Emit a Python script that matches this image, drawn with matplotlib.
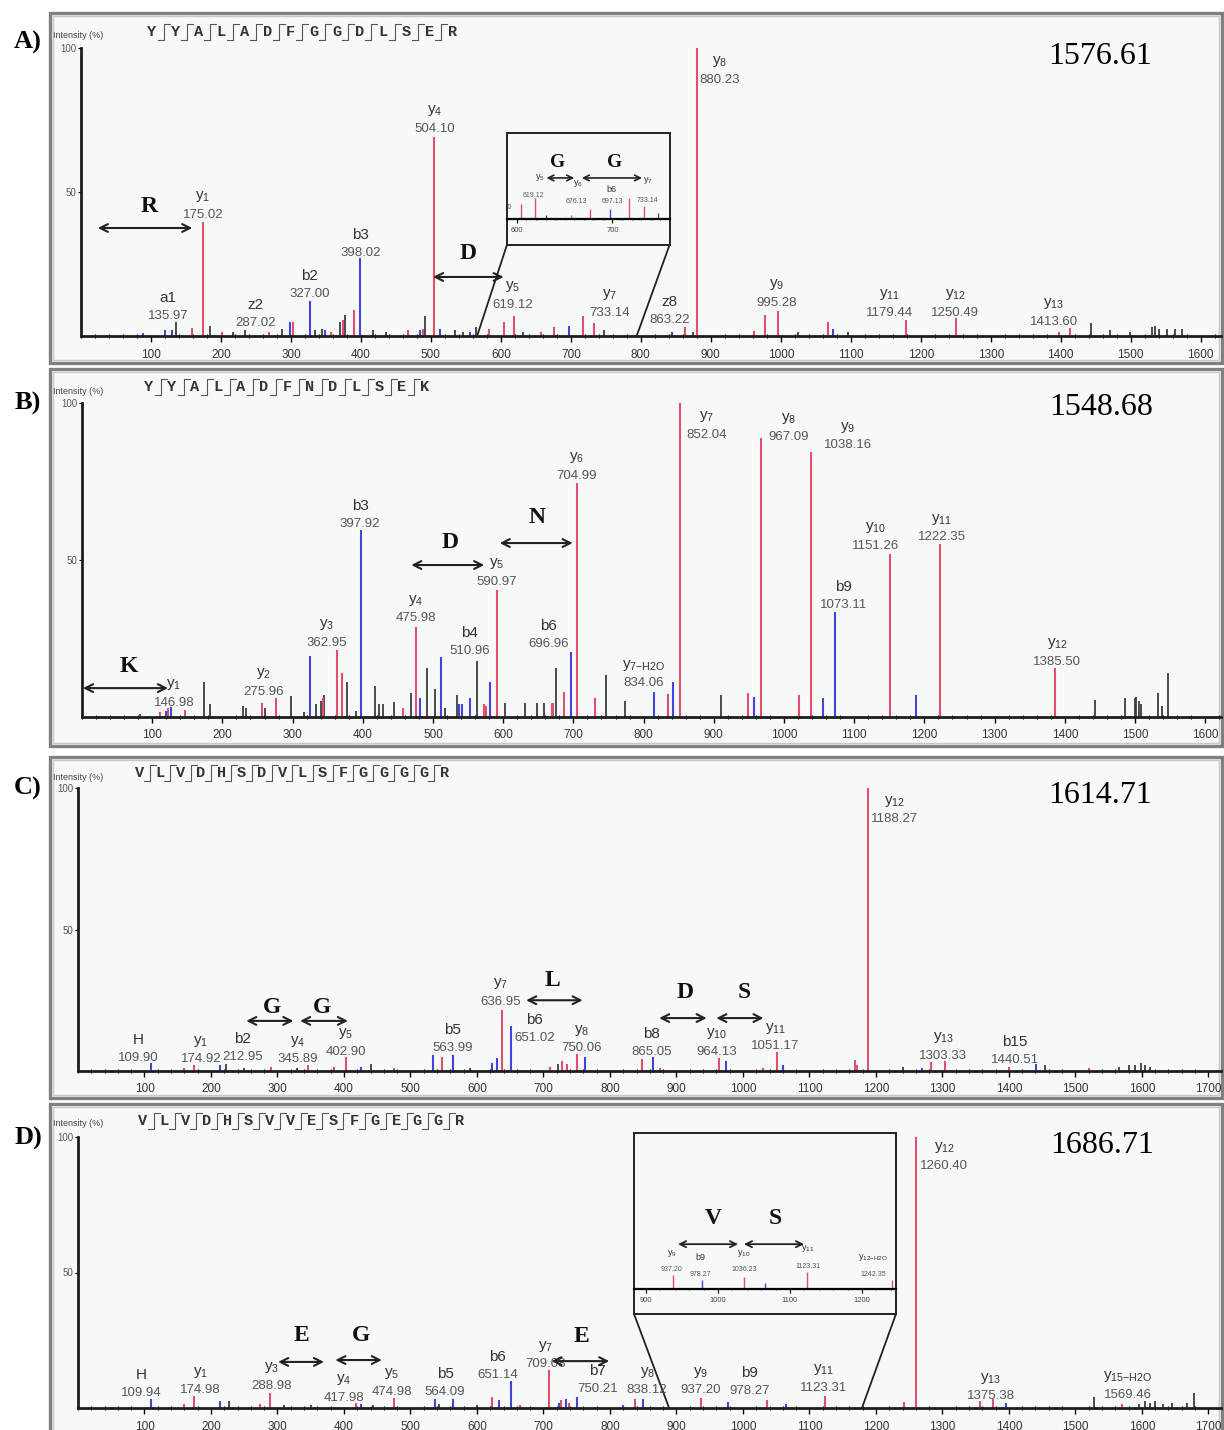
import numpy as np
import matplotlib
matplotlib.use("Agg")
import matplotlib.pyplot as plt
from matplotlib.patches import Rectangle
from matplotlib.lines import Line2D
from matplotlib.ticker import MultipleLocator

plt.rcParams["font.family"] = ["Liberation Sans", "DejaVu Sans"]

W, H = 1224, 1430
RED, BLUE, BLACK = "#e0506e", "#4444d8", "#3a3a3a"
BG = "#f7f9f9"

# ---------------------------------------------------------------------
# A) YYALADFGGDLSER, precursor 1576.61
# ---------------------------------------------------------------------
seq_a = "YYALADFGGDLSER"
precursor_a = 1576.61
red_mz_a = [158, 175.02, 201, 268, 303, 357, 374, 390, 467, 488,
            504.10, 583, 604.10, 619.12, 657, 676.13, 717, 733.14, 863.22, 880.23,
            962, 978, 995.28, 1067, 1179.44, 1250.49, 1398, 1413.60]
red_int_a = [2.8, 39.5, 1.5, 1.5, 4.9, 1.5, 5.5, 9.0, 2.0, 2.5,
             69.0, 2.4, 4.9, 7.0, 1.5, 3.2, 6.9, 4.5, 3.2, 100.0,
             1.7, 7.3, 8.7, 4.9, 5.6, 6.2, 1.5, 2.8]
blue_mz_a = [88, 120, 130, 298, 327.00, 349, 398.02, 484, 513, 556, 697.13, 844, 1074]
blue_int_a = [1.0, 2.0, 2.2, 4.9, 12.0, 2.0, 27.0, 2.0, 2.5, 1.5, 3.4, 1.5, 2.4]
black_mz_a = [135.97, 184, 217, 234, 287.02, 334, 344, 370, 377, 417,
              436, 491, 534, 546, 565, 631, 748, 875, 1024, 1096,
              1443, 1471, 1499, 1530, 1534, 1541, 1552, 1563, 1573]
black_int_a = [5.0, 3.5, 1.5, 2.0, 2.4, 2.0, 2.5, 5.0, 7.3, 2.0,
               1.5, 7.0, 2.0, 1.5, 3.0, 1.5, 2.0, 1.5, 1.5, 1.3,
               4.5, 2.0, 1.5, 3.0, 3.5, 2.5, 2.5, 2.5, 2.5]
ions_a = ["a1", "y1", "z2", "b2", "b3", "y4", "y5", "y7", "z8", "y8", "y9", "y11", "y12", "y13"]
ion_mz_a = [135.97, 175.02, 287.02, 327.00, 398.02, 504.10, 619.12, 733.14, 863.22, 880.23,
            995.28, 1179.44, 1250.49, 1413.60]
zoom_ions_a = ["y5", "y6", "b6", "y7"]
zoom_mz_a = [619.12, 676.13, 697.13, 733.14]
edge_mz_a = 604.10

# ---------------------------------------------------------------------
# B) YYALADFNDLSEK, precursor 1548.68
# ---------------------------------------------------------------------
seq_b = "YYALADFNDLSEK"
precursor_b = 1548.68
red_mz_b = [111, 123, 146.98, 256, 275.96, 343, 362.95, 371, 457, 475.98,
            572, 575, 590.97, 669, 671, 686, 704.99, 731, 834.06, 852.04,
            949, 967.09, 1021, 1038.16, 1151.26, 1222.35, 1385.50]
red_int_b = [1.5, 3.0, 2.2, 4.5, 6.0, 6.0, 21.3, 14.0, 3.0, 28.7,
             4.0, 3.5, 40.4, 4.5, 4.5, 8.0, 74.5, 6.0, 7.3, 100.0,
             7.6, 89.0, 7.0, 84.5, 52.0, 55.0, 15.7]
blue_mz_b = [83, 119, 127, 325, 397.92, 481, 510.96, 537, 542, 553,
             581, 696.96, 815, 842, 957, 1055, 1073.11, 1188]
blue_int_b = [1.0, 2.0, 3.3, 19.5, 59.6, 6.0, 19.0, 4.0, 4.0, 6.0,
              11.0, 20.7, 8.0, 11.0, 6.5, 6.0, 33.5, 7.0]
black_mz_b = [174, 183, 229, 233, 260, 298, 316, 333, 340, 345,
              377, 390, 417, 423, 429, 445, 468, 491, 503, 517,
              534, 562, 603, 631, 648, 658, 675, 747, 774, 910,
              1443, 1486, 1500, 1502, 1505, 1508, 1533, 1538, 1547]
black_int_b = [11.0, 4.0, 3.5, 3.0, 3.0, 6.6, 1.5, 4.0, 5.0, 7.0,
               11.0, 2.0, 10.0, 4.0, 4.0, 4.8, 7.6, 15.6, 9.0, 3.0,
               7.0, 17.8, 4.5, 4.5, 4.5, 4.5, 15.6, 13.4, 5.0, 7.0,
               5.4, 6.0, 6.0, 6.5, 5.0, 4.0, 7.5, 3.4, 14.0]
ions_b = ["y1", "y2", "y3", "b3", "y4", "b4", "y5", "b6", "y6", "y7-H2O",
          "y7", "y8", "y9", "b9", "y10", "y11", "y12"]
ion_mz_b = [146.98, 275.96, 362.95, 397.92, 475.98, 510.96, 590.97, 696.96, 704.99, 834.06,
            852.04, 967.09, 1038.16, 1073.11, 1151.26, 1222.35, 1385.50]

# ---------------------------------------------------------------------
# C) VLVDHSDVLSFGGGGR, precursor 1614.71
# ---------------------------------------------------------------------
seq_c = "VLVDHSDVLSFGGGGR"
precursor_c = 1614.71
red_mz_c = [160, 174.92, 290, 345.89, 385, 402.90, 475, 548, 636.95, 710,
            728, 735, 750.06, 848, 875, 964.13, 1030, 1051.17, 1168, 1172,
            1188.27, 1283, 1303.33, 1400, 1520]
red_int_c = [1.0, 2.0, 1.5, 2.2, 1.5, 5.0, 1.0, 5.0, 21.6, 1.5,
             3.5, 2.5, 6.0, 4.2, 1.0, 4.7, 1.0, 6.7, 3.8, 2.0,
             100.0, 3.2, 3.5, 1.5, 1.0]
blue_mz_c = [109.90, 212.95, 425, 534, 563.99, 622, 630, 651.02, 762, 865.05,
             975, 1061, 1270, 1440.51]
blue_int_c = [2.8, 2.0, 1.5, 5.6, 5.6, 2.8, 4.5, 16.0, 5.0, 5.0,
              3.7, 2.0, 1.0, 2.3]
black_mz_c = [223, 250, 330, 440, 590, 722, 1240, 1455, 1565, 1580, 1590, 1598, 1605, 1612]
black_int_c = [2.5, 1.0, 1.0, 2.5, 1.0, 2.5, 1.5, 2.0, 1.5, 2.0, 2.0, 3.0, 2.0, 1.5]
ions_c = ["H", "y1", "b2", "y4", "y5", "b5", "y7", "b6", "y8", "b8",
          "y10", "y11", "y12", "y13", "b15"]
ion_mz_c = [109.90, 174.92, 212.95, 345.89, 402.90, 563.99, 636.95, 651.02, 750.06, 865.05,
            964.13, 1051.17, 1188.27, 1303.33, 1440.51]

# ---------------------------------------------------------------------
# D) VLVDHSVVESFGEGGR, precursor 1686.71
# ---------------------------------------------------------------------
seq_d = "VLVDHSVVESFGEGGR"
precursor_d = 1686.71
red_mz_d = [159, 174.98, 274, 288.98, 417.98, 474.98, 622, 665, 709.08, 726,
            738, 838.12, 937.20, 1036.23, 1123.31, 1242.35, 1260.40, 1357, 1375.38, 1569.46]
red_int_d = [1.5, 4.4, 1.5, 5.5, 2.0, 3.6, 4.0, 1.0, 14.0, 3.0,
             2.0, 3.3, 3.7, 3.0, 4.4, 2.2, 100.0, 2.5, 3.3, 1.5]
blue_mz_d = [109.94, 213, 425, 537, 564.09, 633, 651.14, 723, 734, 750.21,
             820, 849, 978.27, 1065, 1396]
blue_int_d = [3.3, 2.5, 1.5, 3.3, 3.3, 3.0, 10.0, 2.0, 3.5, 4.0,
              1.0, 3.3, 2.2, 1.5, 2.0]
black_mz_d = [227, 310, 350, 443, 543, 600, 1528, 1595, 1605, 1612, 1620, 1632, 1645, 1668, 1678]
black_int_d = [2.5, 1.2, 1.0, 1.0, 1.5, 1.0, 4.0, 1.5, 2.5, 2.0, 2.5, 1.5, 2.0, 2.0, 5.5]
ions_d = ["H", "y1", "y3", "y4", "y5", "b5", "b6", "y7", "b7", "y8",
          "y9", "b9", "y11", "y12", "y13", "y15-H2O"]
ion_mz_d = [109.94, 174.98, 288.98, 417.98, 474.98, 564.09, 651.14, 709.08, 750.21, 838.12,
            937.20, 978.27, 1123.31, 1260.40, 1375.38, 1569.46]
zoom_ions_d = ["y9", "b9", "y10", "y11", "y12-H2O"]
zoom_mz_d = [937.20, 978.27, 1036.23, 1123.31, 1242.35]


# ---------------------------------------------------------------------
# helpers
# ---------------------------------------------------------------------
fig = plt.figure(figsize=(W / 100, H / 100), dpi=100)
fig.patch.set_facecolor("white")


def fx(x):
    return x / W


def fy(y):
    return 1 - y / H


def panel_frame(x0, y0, x1, y1):
    fig.patches.append(Rectangle((fx(x0), fy(y1)), (x1 - x0) / W, (y1 - y0) / H,
                                 transform=fig.transFigure, facecolor=BG,
                                 edgecolor="#808080", lw=2.4, zorder=-2))
    fig.patches.append(Rectangle((fx(x0 + 3), fy(y1 - 3)), (x1 - x0 - 6) / W, (y1 - y0 - 6) / H,
                                 transform=fig.transFigure, fill=False,
                                 edgecolor="#c8c8c8", lw=1.0, zorder=-1))


def spectrum_axes(left, top, right, bottom, xmax, last_tick):
    ax = fig.add_axes([fx(left), fy(bottom), (right - left) / W, (bottom - top) / H])
    ax.set_xlim(0, xmax)
    ax.set_ylim(0, 100)
    ax.set_facecolor("none")
    ax.spines[["top", "right"]].set_visible(False)
    for s in ("left", "bottom"):
        ax.spines[s].set_linewidth(2.0)
        ax.spines[s].set_color("#1e1e1e")
    ax.set_yticks([50, 100])
    ax.tick_params(axis="y", length=2.5, width=0.8, labelsize=7, pad=1, labelcolor="#555")
    ax.set_xticks(np.arange(100, last_tick + 1, 100))
    ax.xaxis.set_minor_locator(MultipleLocator(20))
    ax.tick_params(axis="x", which="major", length=4, width=1.0, labelsize=8.5,
                   pad=5, labelcolor="#333")
    ax.tick_params(axis="x", which="minor", length=3, width=0.8, direction="inout")
    return ax


def draw_peaks(ax, red, blue, black, lw=1.5):
    for (mz, inten), c, w in ((black, BLACK, lw * 0.85), (blue, BLUE, lw), (red, RED, lw)):
        ax.vlines(mz, 0, inten, colors=c, lw=w, zorder=2)


def ion_text(name):
    if name[0] == "y":
        return r"$\mathregular{y_{%s}}$" % name[1:].replace("-", "{-}")
    return name


def label_ions(ax, names, values, spots, fs_name=11, fs_val=9.5, rise=13):
    for name, mz, (x, y) in zip(names, values, spots):
        ax.text(x, y, f"{mz:.2f}", ha="center", va="center", fontsize=fs_val,
                color="#555", clip_on=False, zorder=5)
        ax.annotate(ion_text(name), (x, y), xytext=(0, rise), textcoords="offset points",
                    ha="center", va="center", fontsize=fs_name, color="#333",
                    annotation_clip=False, zorder=5)


def residue(ax, aa, x, y, x0, x1, ya, size=17, lw=1.5, ms=14):
    ax.text(x, y, aa, family="Liberation Serif", weight="bold", fontsize=size,
            ha="center", va="center", color="#111", zorder=5)
    ax.annotate("", xy=(x1, ya), xytext=(x0, ya),
                arrowprops=dict(arrowstyle="<->", lw=lw, color="#222",
                                mutation_scale=ms, shrinkA=0, shrinkB=0),
                annotation_clip=False, zorder=5)


def header(tag, tag_y, seq, x0, step, yc, label_y):
    fig.text(fx(28), fy(tag_y), tag, family="Liberation Serif", weight="bold",
             fontsize=19, ha="center", va="center")
    fig.text(fx(53), fy(label_y), "Intensity (%)", fontsize=6.5, color="#444",
             ha="left", va="center")
    for i, aa in enumerate(seq):
        fig.text(fx(x0 + i * step), fy(yc), aa, family="Liberation Mono", weight="bold",
                 fontsize=11, color="#333", ha="center", va="center")
    for i in range(len(seq) - 1):
        xm = x0 + (i + 0.5) * step
        xs = [xm - 6, xm, xm, xm + 6]
        ys = [yc + 8, yc + 8, yc - 8, yc - 8]
        fig.add_artist(Line2D([fx(x) for x in xs], [fy(y) for y in ys],
                              transform=fig.transFigure, lw=0.8, color="#555"))


def zoom_box(ax, box, base, targets, xlim, ymax, ticks, minor, peaks):
    x0, x1, y0, y1 = box
    ax.add_patch(Rectangle((x0, y0), x1 - x0, y1 - y0, facecolor=BG, edgecolor="#222",
                           lw=1.4, clip_on=False, zorder=3))
    ax.plot([x0, targets[0]], [y0, 0], color="#222", lw=1.3, clip_on=False, zorder=3)
    ax.plot([x1, targets[1]], [y0, 0], color="#222", lw=1.3, clip_on=False, zorder=3)
    ins = ax.inset_axes([x0, base, x1 - x0, y1 - base], transform=ax.transData, zorder=4)
    ins.set_xlim(*xlim)
    ins.set_ylim(0, ymax)
    ins.set_facecolor("none")
    ins.spines[["top", "right", "left"]].set_visible(False)
    ins.spines["bottom"].set_linewidth(1.6)
    ins.set_yticks([])
    ins.set_xticks(ticks)
    ins.xaxis.set_minor_locator(MultipleLocator(minor))
    ins.tick_params(axis="x", which="major", length=3, width=0.8, labelsize=5.5,
                    pad=3, labelcolor="#444")
    ins.tick_params(axis="x", which="minor", length=2, width=0.6, direction="inout")
    draw_peaks(ins, *peaks, lw=1.0)
    return ins


def zoom_labels(ins, names, values, name_xy, value_xy):
    for name, mz, (nx, ny), (vx, vy) in zip(names, values, name_xy, value_xy):
        ins.text(vx, vy, f"{mz:.2f}", ha="center", va="center", fontsize=5, color="#555")
        ins.text(nx, ny, ion_text(name), ha="center", va="center", fontsize=6.5, color="#333")


# ---------------------------------------------------------------------
# panel A
# ---------------------------------------------------------------------
panel_frame(50, 13, 1222, 363)
header("A)", 42, seq_a, 152, 23.1, 32, 35)
ax = spectrum_axes(81, 48, 1221, 336, 1629, 1600)
peaks_a = ((red_mz_a, red_int_a), (blue_mz_a, blue_int_a), (black_mz_a, black_int_a))
draw_peaks(ax, *peaks_a)
label_ions(ax, ions_a, ion_mz_a,
           [(124, 6.9), (174, 42), (249, 4.5), (327, 14.6), (399, 28.8), (506, 71.9),
            (617, 10.8), (756, 8), (841, 5.6), (912, 89), (994, 11.5), (1156, 8),
            (1249, 8), (1390, 4.9)])
ax.text(1456, 96.9, f"{precursor_a:.2f}", family="Liberation Serif", fontsize=23,
        ha="center", va="center")
residue(ax, "R", 97, 44.8, 24, 159, 37.5)
residue(ax, "D", 553, 28.8, 503, 604, 20.5)
ins = zoom_box(ax, (608.6, 841, 31.6, 70.5), 40.6, (566, 794), (589.6, 759.8), 28.7,
               [600, 700], 10, peaks_a)
zoom_labels(ins, zoom_ions_a, zoom_mz_a,
            [(624, 13.7), (663.5, 12), (699, 10), (737.5, 13)],
            [(617.7, 8), (662.5, 5.7), (700, 5.7), (737, 6.3)])
ins.text(584, 4, f"{edge_mz_a:.2f}", ha="center", va="center", fontsize=5,
         color="#555", clip_on=True)
residue(ins, "G", 642.7, 19, 631, 660, 13.7, size=14, lw=1.2, ms=10)
residue(ins, "G", 702, 19, 668, 731, 13.7, size=14, lw=1.2, ms=10)

# ---------------------------------------------------------------------
# panel B
# ---------------------------------------------------------------------
panel_frame(50, 369, 1222, 746)
header("B)", 403, seq_b, 149, 23.0, 387, 391)
ax = spectrum_axes(82, 403, 1221, 717, 1622.5, 1600)
draw_peaks(ax, (red_mz_b, red_int_b), (blue_mz_b, blue_int_b), (black_mz_b, black_int_b))
label_ions(ax, ions_b, ion_mz_b,
           [(131, 4.5), (259, 8), (349, 23.6), (396, 61.5), (475.5, 31.5), (552, 21),
            (590, 43), (665, 23.2), (705, 76.8), (800, 10.8), (890, 89.8), (1007, 89.2),
            (1091, 86.6), (1085, 35.7), (1131, 54.5), (1225, 57.3), (1389, 17.5)])
ax.text(1452, 98.7, f"{precursor_b:.2f}", family="Liberation Serif", fontsize=23,
        ha="center", va="center")
residue(ax, "K", 66, 16, 1.4, 122.5, 9.2)
residue(ax, "D", 524, 55.7, 469, 573, 48.4)
residue(ax, "N", 648, 63.4, 595, 699, 55.4)

# ---------------------------------------------------------------------
# panel C
# ---------------------------------------------------------------------
panel_frame(50, 757, 1222, 1098)
header("C)", 788, seq_c, 140, 20.3, 773, 777)
ax = spectrum_axes(78, 788, 1221, 1071, 1719, 1700)
draw_peaks(ax, (red_mz_c, red_int_c), (blue_mz_c, blue_int_c), (black_mz_c, black_int_c))
label_ions(ax, ions_c, ion_mz_c,
           [(91, 4.6), (185, 4.2), (247, 5), (331, 4.2), (403, 6.7), (563, 8.1),
            (636, 24.4), (687, 11.7), (757, 8.1), (862, 6.7), (961, 6.7), (1049, 8.8),
            (1228, 89), (1301, 5.3), (1409, 3.9)])
ax.text(1537, 97.5, f"{precursor_c:.2f}", family="Liberation Serif", fontsize=23,
        ha="center", va="center")
residue(ax, "G", 292, 22.6, 253, 324, 17.7)
residue(ax, "G", 367, 22.6, 334, 406, 17.7)
residue(ax, "L", 714, 32, 674, 759, 25)
residue(ax, "D", 913, 27.6, 874, 945.5, 18.7)
residue(ax, "S", 1001.5, 27.6, 960, 1031, 18.7)

# ---------------------------------------------------------------------
# panel D
# ---------------------------------------------------------------------
panel_frame(50, 1104, 1222, 1450)
header("D)", 1138, seq_d, 143, 21.1, 1121, 1123)
ax = spectrum_axes(78, 1137, 1221, 1408, 1719, 1700)
peaks_d = ((red_mz_d, red_int_d), (blue_mz_d, blue_int_d), (black_mz_d, black_int_d))
draw_peaks(ax, *peaks_d)
label_ions(ax, ions_d, ion_mz_d,
           [(94.5, 5.5), (184, 6.6), (291, 8.1), (400, 3.7), (472, 5.9), (552, 5.9),
            (631, 12.2), (703, 16.2), (781, 7), (856, 6.6), (937, 6.6), (1010, 6.3),
            (1121, 7.4), (1303, 89.3), (1373, 4.4), (1579, 4.8)])
ax.text(1540, 97, f"{precursor_d:.2f}", family="Liberation Serif", fontsize=23,
        ha="center", va="center")
residue(ax, "E", 336, 26.9, 301, 370, 17)
residue(ax, "G", 426, 26.9, 387, 457, 17.7)
residue(ax, "E", 757, 26.2, 712, 799, 17.3)
ins = zoom_box(ax, (836.2, 1230.2, 34.7, 101.5), 43.9, (889, 1179), (883.3, 1247.2), 40,
               [900, 1000, 1100, 1200], 20, peaks_d)
zoom_labels(ins, zoom_ions_d, zoom_mz_d,
            [(936, 9), (975, 8.2), (1036, 9), (1125, 10.5), (1215, 8.2)],
            [(936, 4.9), (975, 3.8), (1036, 4.9), (1125, 5.9), (1215, 3.8)])
residue(ins, "V", 993, 18.2, 944.4, 1027.8, 11.5, size=17, lw=1.3, ms=11)
residue(ins, "S", 1079, 18.2, 1036, 1119.4, 11.5, size=17, lw=1.3, ms=11)

fig.savefig("out.png", dpi=100, facecolor="white")
